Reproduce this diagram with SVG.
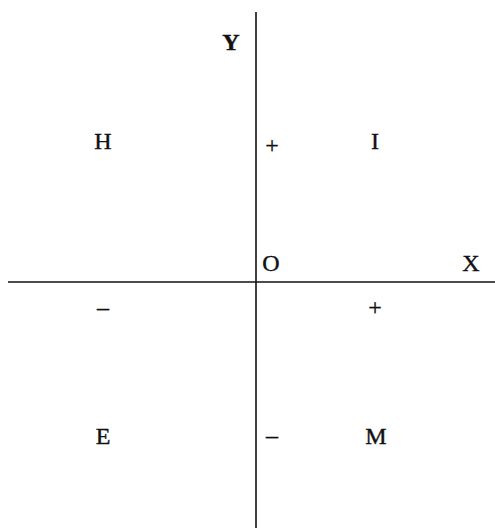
<svg xmlns="http://www.w3.org/2000/svg" width="495" height="528" viewBox="0 0 495 528">
<style>
.t{font-family:"Liberation Serif","Times New Roman",serif;font-size:24px;fill:#111;stroke:#111;stroke-width:0.4;text-anchor:middle}
.s{font-family:"Liberation Serif","Times New Roman",serif;font-size:24px;fill:#111;stroke:#111;stroke-width:0.3;text-anchor:middle}
.ax{stroke:#111;stroke-width:1.6;fill:none}
</style>
<rect width="495" height="528" fill="#fff"/>
<g id="connectors">
<line class="ax" x1="256" y1="12" x2="256" y2="528"/>
<line class="ax" x1="8" y1="282" x2="495" y2="282"/>
</g>
<g id="Y"><text class="t" x="231" y="50" font-weight="bold">Y</text></g>
<g id="X"><text class="t" x="471" y="271">X</text></g>
<g id="O"><text class="t" x="271" y="271">O</text></g>
<g id="H"><text class="t" x="103" y="149">H</text></g>
<g id="I"><text class="t" x="375" y="149">I</text></g>
<g id="E"><text class="t" x="103" y="444">E</text></g>
<g id="M"><text class="t" x="376" y="444">M</text></g>
<g id="plusY"><text class="s" x="272" y="153">+</text></g>
<g id="plusX"><text class="s" x="375" y="315">+</text></g>
<g id="minusX"><text class="s" x="103" y="315">–</text></g>
<g id="minusY"><text class="s" x="272" y="443">–</text></g>
</svg>
